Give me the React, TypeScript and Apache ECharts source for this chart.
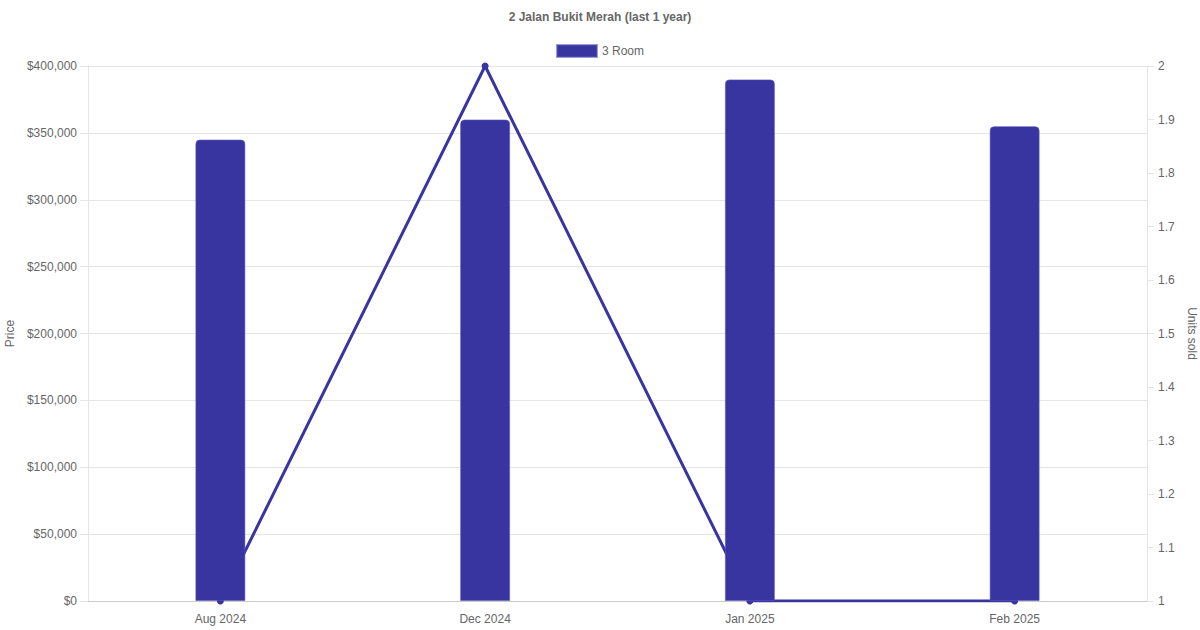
import React, { useEffect, useRef } from "react";
import * as echarts from "echarts";

const categories = ["Aug 2024", "Dec 2024", "Jan 2025", "Feb 2025"];
const prices = [345000, 360000, 390000, 355000];
const unitsSold = [1, 2, 1, 1];
const seriesName = "3 Room";
const titleText = "2 Jalan Bukit Merah (last 1 year)";

const FONT = "'Liberation Sans', Arial, Helvetica, sans-serif";
const BAR = "#3834a0";
const TXT = "#666666";

export default function App() {
  const ref = useRef<HTMLDivElement>(null);
  useEffect(() => {
    document.body.style.margin = "0";
    const chart = echarts.init(ref.current!, null, { renderer: "svg" });
    chart.setOption({
      animation: false,
      textStyle: { fontFamily: FONT },
      title: {
        text: titleText,
        left: "center",
        top: 6,
        textStyle: { fontSize: 12, fontWeight: "bold", color: TXT, fontFamily: FONT },
      },
      legend: {
        data: [seriesName],
        top: 39,
        left: "center",
        itemWidth: 40,
        itemHeight: 12,
        itemGap: 6,
        icon: "rect",
        textStyle: { fontSize: 12, color: TXT, fontFamily: FONT },
      },
      grid: { left: 88, right: 53, top: 66, bottom: 29, containLabel: false, outerBoundsMode: "none" },
      xAxis: {
        type: "category",
        data: categories,
        axisLine: { show: true, lineStyle: { color: "#cccccc" } },
        axisTick: { show: false },
        axisLabel: { color: TXT, fontSize: 12, margin: 12, fontFamily: FONT },
        splitLine: { show: false },
      },
      yAxis: [
        {
          type: "value",
          min: 0,
          max: 400000,
          interval: 50000,
          name: "Price",
          nameLocation: "middle",
          nameGap: 70,
          nameRotate: 90,
          nameTextStyle: { color: TXT, fontSize: 12, fontFamily: FONT },
          axisLine: { show: true, lineStyle: { color: "#e5e5e5" } },
          axisTick: { show: true, length: 8, lineStyle: { color: "#e5e5e5" } },
          axisLabel: {
            color: TXT,
            fontSize: 12,
            margin: 11,
            fontFamily: FONT,
            formatter: (v: number) => "$" + v.toLocaleString("en-US"),
          },
          splitLine: { show: true, lineStyle: { color: "#e5e5e5" } },
        },
        {
          type: "value",
          min: 1,
          max: 2,
          interval: 0.1,
          position: "right",
          name: "Units sold",
          nameLocation: "middle",
          nameGap: 33,
          nameRotate: -90,
          nameTextStyle: { color: TXT, fontSize: 12, fontFamily: FONT },
          axisLine: { show: true, lineStyle: { color: "#e5e5e5" } },
          axisTick: { show: true, length: 7, lineStyle: { color: "#e5e5e5" } },
          axisLabel: {
            color: TXT,
            fontSize: 12,
            margin: 11,
            fontFamily: FONT,
            formatter: (v: number) => String(Math.round(v * 10) / 10),
          },
          splitLine: { show: false },
        },
      ],
      series: [
        {
          name: "Units",
          type: "line",
          yAxisIndex: 1,
          data: unitsSold,
          z: 1,
          symbol: "circle",
          symbolSize: 7,
          lineStyle: { color: BAR, width: 3 },
          itemStyle: { color: BAR },
        },
        {
          name: seriesName,
          type: "bar",
          yAxisIndex: 0,
          data: prices,
          barWidth: 50,
          z: 3,
          itemStyle: {
            color: BAR,
            borderColor: "rgba(90,85,185,0.6)",
            borderWidth: 1,
            borderRadius: [4, 4, 0, 0],
          },
        },
      ],
    });
    return () => chart.dispose();
  }, []);
  return <div ref={ref} style={{ width: 1200, height: 630 }} />;
}
